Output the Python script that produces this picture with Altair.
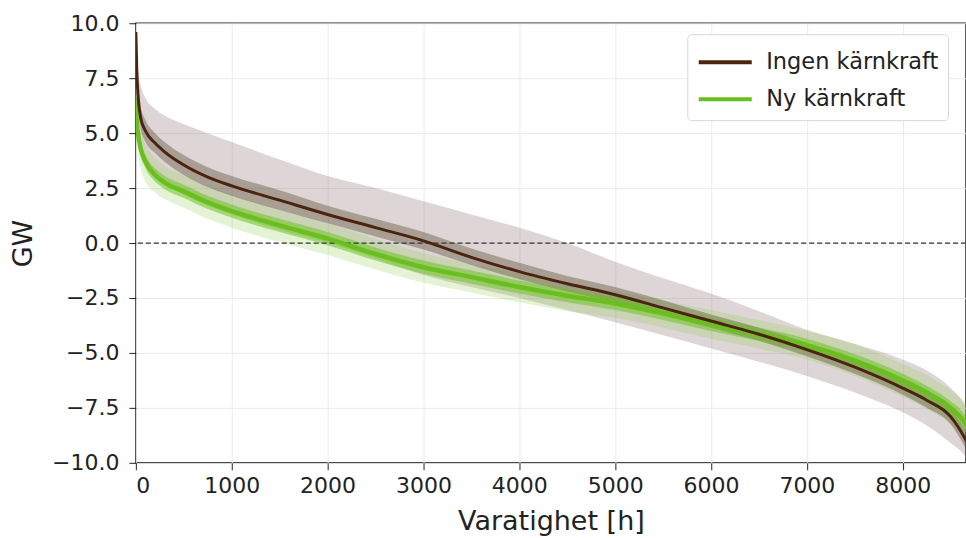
import altair as alt
import pandas as pd

# hours of the duration curve
hours = [0, 10, 25, 50, 100, 200, 300, 500, 750, 1000, 1500, 2000, 2500, 3000,
         3500, 4000, 4500, 5000, 5500, 6000, 6500, 7000, 7500, 8000, 8250, 8500, 8650, 8760]

# Ingen kärnkraft
ingen_med = [9.6, 7.8, 6.6, 5.7, 5.1, 4.55, 4.15, 3.55, 3.0, 2.6, 1.95, 1.3, 0.7, 0.1,
             -0.65, -1.3, -1.85, -2.35, -2.95, -3.55, -4.15, -4.85, -5.65, -6.6, -7.15, -7.9, -8.9, -9.9]
ingen_in_hi = [10.0, 8.4, 7.2, 6.2, 5.6, 5.0, 4.6, 4.0, 3.45, 3.05, 2.4, 1.7, 1.1, 0.5,
               -0.25, -0.9, -1.5, -2.0, -2.6, -3.25, -3.85, -4.55, -5.35, -6.3, -6.85, -7.55, -8.5, -9.4]
ingen_in_lo = [9.0, 7.2, 6.0, 5.2, 4.6, 4.1, 3.7, 3.1, 2.55, 2.15, 1.5, 0.9, 0.3, -0.3,
               -1.0, -1.65, -2.2, -2.7, -3.3, -3.85, -4.45, -5.15, -5.95, -6.9, -7.5, -8.25, -9.3, -10.3]
ingen_out_hi = [10.0, 8.6, 7.8, 7.2, 6.6, 6.1, 5.8, 5.4, 5.0, 4.6, 3.8, 3.05, 2.5, 1.9,
                1.3, 0.7, 0.0, -0.85, -1.6, -2.3, -3.1, -3.95, -4.6, -5.3, -5.8, -6.6, -7.4, -8.6]
ingen_out_lo = [8.0, 5.6, 4.8, 4.1, 3.6, 3.0, 2.7, 2.2, 1.7, 1.3, 0.6, 0.0, -0.7, -1.45,
                -2.0, -2.5, -3.05, -3.6, -4.2, -4.8, -5.4, -6.05, -6.8, -7.7, -8.3, -9.1, -9.7, -10.6]

# Ny kärnkraft
ny_med = [6.6, 5.5, 4.9, 4.3, 3.7, 3.1, 2.75, 2.35, 1.85, 1.45, 0.8, 0.2, -0.5, -1.1,
          -1.55, -2.0, -2.4, -2.75, -3.2, -3.7, -4.15, -4.65, -5.35, -6.25, -6.8, -7.5, -8.2, -9.3]
ny_in_hi = [6.9, 5.8, 5.2, 4.6, 4.0, 3.4, 3.05, 2.65, 2.15, 1.75, 1.1, 0.5, -0.2, -0.8,
            -1.25, -1.7, -2.1, -2.45, -2.9, -3.4, -3.85, -4.35, -5.05, -5.95, -6.5, -7.2, -7.85, -8.9]
ny_in_lo = [6.3, 5.2, 4.6, 4.0, 3.4, 2.8, 2.45, 2.05, 1.55, 1.15, 0.5, -0.1, -0.8, -1.4,
            -1.85, -2.3, -2.7, -3.05, -3.5, -4.0, -4.45, -4.95, -5.65, -6.55, -7.1, -7.8, -8.55, -9.7]
ny_out_hi = [7.4, 6.3, 5.7, 5.1, 4.5, 3.9, 3.5, 3.1, 2.6, 2.2, 1.5, 0.9, 0.2, -0.45,
             -0.95, -1.4, -1.8, -2.2, -2.6, -3.05, -3.5, -4.0, -4.6, -5.5, -6.0, -6.7, -7.3, -8.3]
ny_out_lo = [5.8, 4.6, 4.0, 3.4, 2.8, 2.3, 2.0, 1.6, 1.1, 0.7, 0.05, -0.55, -1.2, -1.8,
             -2.25, -2.7, -3.1, -3.4, -3.85, -4.35, -4.8, -5.3, -6.05, -7.0, -7.55, -8.25, -9.0, -10.2]

series_names = ["Ingen kärnkraft", "Ny kärnkraft"]
line_colors = ["#4a2410", "#6abf1e"]
x_ticks = [0, 1000, 2000, 3000, 4000, 5000, 6000, 7000, 8000]
y_ticks = [-10.0, -7.5, -5.0, -2.5, 0.0, 2.5, 5.0, 7.5, 10.0]

rows = []
for name, med, ilo, ihi, olo, ohi in [
    (series_names[0], ingen_med, ingen_in_lo, ingen_in_hi, ingen_out_lo, ingen_out_hi),
    (series_names[1], ny_med, ny_in_lo, ny_in_hi, ny_out_lo, ny_out_hi),
]:
    for i, h in enumerate(hours):
        rows.append(dict(serie=name, h=h, med=med[i], ilo=ilo[i], ihi=ihi[i], olo=olo[i], ohi=ohi[i]))
df = pd.DataFrame(rows)
df_i = df[df.serie == series_names[0]]
df_n = df[df.serie == series_names[1]]

xs = alt.Scale(domain=[0, 8660], nice=False, zero=False)
ys = alt.Scale(domain=[-10, 10], nice=False)

X = alt.X("h:Q", scale=xs, title="Varatighet [h]",
          axis=alt.Axis(values=x_ticks, format="d"))
Y = alt.Y("med:Q", scale=ys, title="GW",
          axis=alt.Axis(values=y_ticks, format=".1f"))


def band(data, lo, hi, color, op):
    return alt.Chart(data).mark_area(fill=color, opacity=op, interpolate="monotone", clip=True).encode(
        x=X, y=alt.Y(f"{lo}:Q", scale=ys, title="GW", axis=alt.Axis(values=y_ticks, format=".1f")),
        y2=f"{hi}:Q")


b1 = band(df_i, "olo", "ohi", "#7a5a5a", 0.25)
b2 = band(df_n, "olo", "ohi", "#8fd14f", 0.25)
b3 = band(df_i, "ilo", "ihi", "#5a4a30", 0.4)
b4 = band(df_n, "ilo", "ihi", "#66c21a", 0.5)

zero_rule = alt.Chart(pd.DataFrame({"z": [0]})).mark_rule(
    color="#333333", strokeDash=[5, 3], strokeWidth=1.2).encode(y=alt.Y("z:Q", scale=ys))

color_scale = alt.Scale(domain=series_names, range=line_colors)
line_n = alt.Chart(df_n).mark_line(strokeWidth=4.5, interpolate="monotone", clip=True).encode(
    x=X, y=Y, color=alt.Color("serie:N", scale=color_scale, title=None,
                              legend=alt.Legend(orient="none", legendX=552, legendY=11)))
line_i = alt.Chart(df_i).mark_line(strokeWidth=3, interpolate="monotone", clip=True).encode(
    x=X, y=Y, color=alt.Color("serie:N", scale=color_scale, title=None))

chart = alt.layer(b1, b2, b3, b4, zero_rule, line_n, line_i).properties(
    width=831, height=440,
    autosize=alt.AutoSizeParams(type="none"),
    padding={"left": 136, "top": 23, "right": 0, "bottom": 75},
).configure_view(
    stroke="#222222", strokeWidth=1.5
).configure_axis(
    labelFont="DejaVu Sans", titleFont="DejaVu Sans",
    labelFontSize=22, titleFontSize=27, titleFontWeight="normal",
    labelColor="#222222", titleColor="#222222",
    tickColor="#222222", tickSize=7, domain=False,
    gridColor="#ebebeb", gridWidth=1,
).configure_axisY(
    titlePadding=14, labelPadding=10
).configure_axisX(
    titlePadding=12, labelPadding=6
).configure_legend(
    labelFont="DejaVu Sans", labelFontSize=22.5, labelColor="#222222", labelLimit=400,
    symbolType="M-1.6,0H1.6", symbolSize=1100, symbolStrokeWidth=4,
    strokeColor="#d8d8d8", fillColor="white", cornerRadius=4, padding=9,
    symbolOffset=10, labelOffset=22, rowPadding=6,
)

chart.save("out.html", embed_options={"renderer": "svg", "actions": False})
